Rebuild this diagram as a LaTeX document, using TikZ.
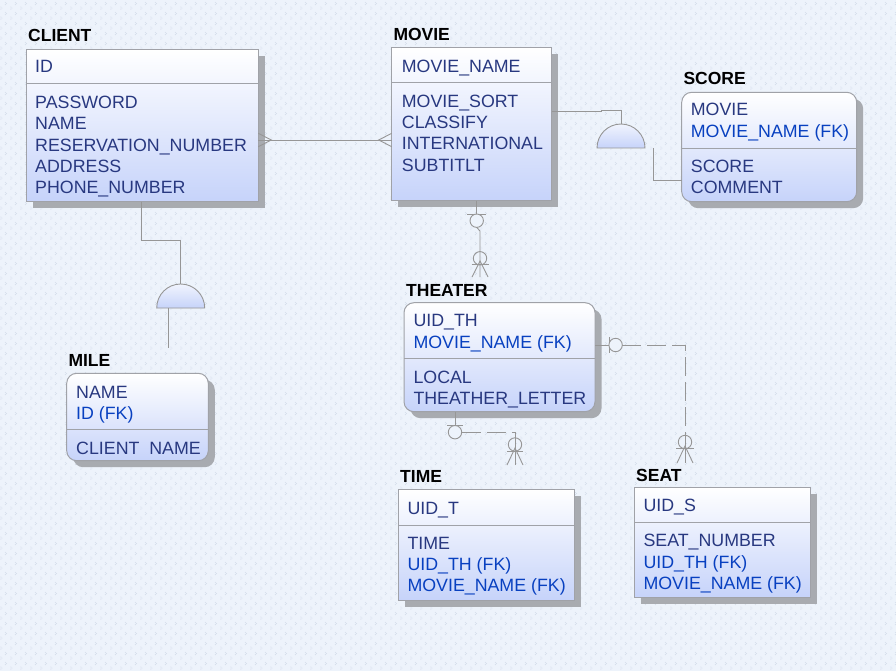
\documentclass[tikz,border=0pt]{standalone}
\usepackage{fontspec}
\setmainfont{Liberation Sans}
\usetikzlibrary{shadows,calc,patterns}
\definecolor{bg}{RGB}{237,243,251}
\definecolor{dotc}{RGB}{212,220,234}
\definecolor{boxblue}{RGB}{198,211,250}
\definecolor{navy}{RGB}{40,56,128}
\definecolor{fkblue}{RGB}{8,64,192}
\definecolor{bordergray}{RGB}{160,162,168}
\definecolor{shadowgray}{RGB}{168,171,176}
\definecolor{linegray}{RGB}{150,150,150}
\pgfdeclarepatternformonly{erdots}{\pgfpointorigin}{\pgfpoint{10pt}{10pt}}{\pgfpoint{10pt}{10pt}}{%
  \pgfpathcircle{\pgfpoint{2pt}{2pt}}{0.6pt}%
  \pgfpathcircle{\pgfpoint{3.2pt}{3.2pt}}{0.6pt}%
  \pgfpathcircle{\pgfpoint{2pt}{4.4pt}}{0.6pt}%
  \pgfpathcircle{\pgfpoint{7pt}{7pt}}{0.6pt}%
  \pgfpathcircle{\pgfpoint{8.2pt}{8.2pt}}{0.6pt}%
  \pgfpathcircle{\pgfpoint{7pt}{9.4pt}}{0.6pt}%
  \pgfusepath{fill}}
\tikzset{
  entbox/.style={draw=bordergray, line width=1pt, top color=white, bottom color=boxblue,
    anchor=north west, inner sep=0pt, outer sep=0pt,
    general shadow={fill=shadowgray, shadow xshift=6.5pt, shadow yshift=-6.5pt}},
  roundbox/.style={entbox, rounded corners=10pt},
  ttl/.style={anchor=base west, inner sep=0pt, font=\fontsize{17.5}{20}\selectfont\bfseries},
  attr/.style={anchor=base west, inner sep=0pt, text=navy, font=\fontsize{17.8}{20}\selectfont},
  fk/.style={attr, text=fkblue},
  divider/.style={draw=bordergray, line width=0.9pt},
  conn/.style={draw=linegray, line width=0.9pt},
  dconn/.style={conn, dash pattern=on 19pt off 6pt},
  halfmoon/.style={draw=linegray, line width=0.9pt, top color=white!75!boxblue, bottom color=boxblue},
  ring/.style={draw=linegray, line width=0.9pt, fill=bg},
  openring/.style={draw=linegray, line width=0.9pt},
}
\begin{document}
\begin{tikzpicture}[x=1pt,y=-1pt]
\fill[bg] (0,0) rectangle (896,671);
\fill[pattern=erdots, pattern color=dotc] (0,0) rectangle (896,671);
\useasboundingbox (0,0) rectangle (896,671);

% ---------- CLIENT ----------
\node[entbox, minimum width=232.3pt, minimum height=152.4pt] (client) at (26,49.3) {};
\draw[divider] (26,83.3) -- (258.3,83.3);
\node[ttl] (clientT) at (28,41.7) {CLIENT};
\node[attr] (clientK) at (35,73) {ID};
\node[attr] (clientA1) at (35,108.3) {PASSWORD};
\node[attr] (clientA2) at (35,129.7) {NAME};
\node[attr] (clientA3) at (35,151.1) {RESERVATION\_NUMBER};
\node[attr] (clientA4) at (35,172.5) {ADDRESS};
\node[attr] (clientA5) at (35,193.9) {PHONE\_NUMBER};

% ---------- MOVIE ----------
\node[entbox, minimum width=160pt, minimum height=153.4pt] (movie) at (391.7,47.3) {};
\draw[divider] (391.7,82.3) -- (551.7,82.3);
\node[ttl] (movieT) at (393.3,40.7) {MOVIE};
\node[attr] (movieK) at (401.7,72.3) {MOVIE\_NAME};
\node[attr] (movieA1) at (401.7,107.3) {MOVIE\_SORT};
\node[attr] (movieA2) at (401.7,128.6) {CLASSIFY};
\node[attr] (movieA3) at (401.7,150) {INTERNATIONAL};
\node[attr] (movieA4) at (401.7,171.3) {SUBTITLT};

% ---------- SCORE ----------
\node[roundbox, minimum width=175pt, minimum height=109.4pt] (score) at (681.7,92.3) {};
\draw[divider] (681.7,148.3) -- (856.7,148.3);
\node[ttl] (scoreT) at (683.3,85) {SCORE};
\node[attr] (scoreK1) at (690.7,115.7) {MOVIE};
\node[fk] (scoreK2) at (690.7,137.2) {MOVIE\_NAME (FK)};
\node[attr] (scoreA1) at (690.7,172.3) {SCORE};
\node[attr] (scoreA2) at (690.7,193.6) {COMMENT};

% ---------- THEATER ----------
\node[roundbox, minimum width=191pt, minimum height=109pt] (theater) at (404,302.7) {};
\draw[divider] (404,358.3) -- (595,358.3);
\node[ttl] (theaterT) at (406,296) {THEATER};
\node[attr] (theaterK1) at (413.3,326.7) {UID\_TH};
\node[fk] (theaterK2) at (413.3,348.2) {MOVIE\_NAME (FK)};
\node[attr] (theaterA1) at (413.3,383.3) {LOCAL};
\node[attr] (theaterA2) at (413.3,404.5) {THEATHER\_LETTER};

% ---------- MILE ----------
\node[roundbox, minimum width=141.6pt, minimum height=87.4pt] (mile) at (66.7,373.3) {};
\draw[divider] (66.7,429.3) -- (208.3,429.3);
\node[ttl] (mileT) at (68.3,366.7) {MILE};
\node[attr] (mileK1) at (76,398.3) {NAME};
\node[fk] (mileK2) at (76,419.6) {ID (FK)};
\node[attr] (mileA1) at (76,454.3) {CLIENT\ \ NAME};

% ---------- TIME ----------
\node[entbox, minimum width=176pt, minimum height=110.7pt] (time) at (398.3,489.3) {};
\draw[divider] (398.3,525) -- (574.3,525);
\node[ttl] (timeT) at (400,482.7) {TIME};
\node[attr] (timeK) at (407.3,514) {UID\_T};
\node[attr] (timeA1) at (407.3,549) {TIME};
\node[fk] (timeA2) at (407.3,570.4) {UID\_TH (FK)};
\node[fk] (timeA3) at (407.3,591.7) {MOVIE\_NAME (FK)};

% ---------- SEAT ----------
\node[entbox, minimum width=175.7pt, minimum height=110pt] (seat) at (634.3,487.3) {};
\draw[divider] (634.3,522.3) -- (810,522.3);
\node[ttl] (seatT) at (636,481) {SEAT};
\node[attr] (seatK) at (643.3,511.7) {UID\_S};
\node[attr] (seatA1) at (643.3,546.7) {SEAT\_NUMBER};
\node[fk] (seatA2) at (643.3,568.3) {UID\_TH (FK)};
\node[fk] (seatA3) at (643.3,589.8) {MOVIE\_NAME (FK)};

% ---------- CLIENT -- MOVIE (many to many) ----------
\coordinate (cm1) at (client.east |- 0,140);
\coordinate (cm2) at (movie.west |- 0,140);
\draw[conn] (cm1) -- (cm2);
\draw[conn] ($(cm1)+(0,-6.7)$) -- ($(cm1)+(13,0)$) -- ($(cm1)+(0,6.7)$);
\draw[conn] ($(cm2)+(0,-6.7)$) -- ($(cm2)+(-13,0)$) -- ($(cm2)+(0,6.7)$);

% ---------- CLIENT -- MILE (subtype) ----------
\coordinate (cl1) at (client.south -| 141.7,0);
\coordinate (cl2) at (180.3,284);
\coordinate (cl3) at (168.3,348);
\draw[conn] (cl1) |- (180.3,240.7) -- (cl2);
\draw[halfmoon] (156.7,308) arc[start angle=180,end angle=360,radius=24] -- cycle;
\draw[conn] (168.3,308) -- (cl3);

% ---------- MOVIE -- SCORE (subtype) ----------
\coordinate (ms1) at (movie.east |- 0,111.7);
\coordinate (ms2) at (score.west |- 0,180);
\draw[conn] (ms1) -- (601.7,111.7) -- (601.7,110) -- (621,110) -- (621,124);
\draw[halfmoon] (597,148) arc[start angle=180,end angle=360,radius=24] -- cycle;
\draw[conn] (653,148) -- (653,180) -- (ms2);

% ---------- MOVIE -- THEATER ----------
\coordinate (mt1) at (movie.south -| 476.7,0);
\coordinate (mt2) at (480,277);
\draw[conn] (mt1) -- (476.7,214);
\draw[conn] (467,214) -- (486,214);
\draw[ring] (476.7,220.7) circle[radius=6.7];
\draw[conn] (476.7,227.4) -- (480,231) -- (mt2);
\draw[openring] (480,258.3) circle[radius=6.7];
\draw[conn] (471.5,264.5) -- (488.5,264.5);
\draw[conn] (472,277) -- (480,261) -- (488,277);

% ---------- THEATER -- SEAT ----------
\coordinate (ts1) at (theater.east |- 0,345);
\coordinate (ts2) at (685,463);
\draw[conn] (ts1) -- (609,345);
\draw[conn] (609,337) -- (609,353);
\draw[ring] (615.6,345) circle[radius=6.7];
\draw[dconn] (622.3,345) -- (685,345) -- (685,436.3);
\draw[conn] (685,436.3) -- (ts2);
\draw[openring] (685,442) circle[radius=6.7];
\draw[conn] (676,448.5) -- (694,448.5);
\draw[conn] (677,463) -- (685,446) -- (693,463);

% ---------- THEATER -- TIME ----------
\coordinate (tt1) at (theater.south -| 455,0);
\coordinate (tt2) at (515,465);
\draw[conn] (tt1) -- (455,425.5);
\draw[conn] (447,425.5) -- (463,425.5);
\draw[ring] (455,432.2) circle[radius=6.7];
\draw[dconn] (461.9,432) -- (515,432) -- (515,438.3);
\draw[conn] (515,438.3) -- (tt2);
\draw[openring] (515,444.5) circle[radius=6.7];
\draw[conn] (507,451) -- (523,451);
\draw[conn] (507,465) -- (515,448) -- (523,465);
\end{tikzpicture}
\end{document}
